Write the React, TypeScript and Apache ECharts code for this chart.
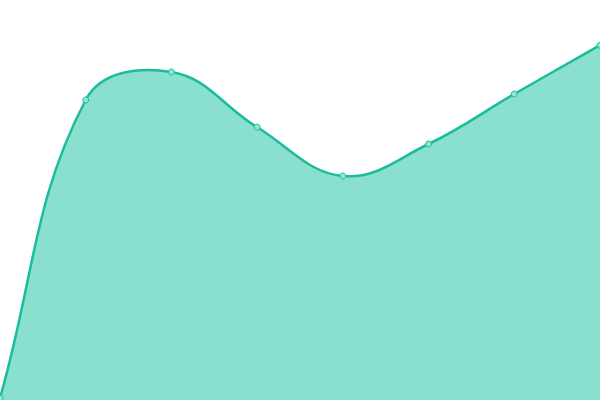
import React, { useEffect, useRef } from "react";
import * as echarts from "echarts";

const categories = ["P1", "P2", "P3", "P4", "P5", "P6", "P7", "P8"];
const values = [0.5, 75, 82, 68.2, 56, 64, 76.5, 88.7];
const yMin = 0;
const yMax = 100;

const LINE_COLOR = "#1abc9c";
const AREA_COLOR = "#8ae0ce";
const TENSION = 0.4;

// Spline smoothing computed in pixel space (control points along neighbour chords)
function buildPath(pts: number[][], t: number): string {
  const n = pts.length;
  const cps = pts.map((cur, i) => {
    const prev = i > 0 ? pts[i - 1] : cur;
    const next = i < n - 1 ? pts[i + 1] : cur;
    const d01 = Math.hypot(cur[0] - prev[0], cur[1] - prev[1]);
    const d12 = Math.hypot(next[0] - cur[0], next[1] - cur[1]);
    const sum = d01 + d12;
    const s01 = sum ? d01 / sum : 0;
    const s12 = sum ? d12 / sum : 0;
    const dx = next[0] - prev[0];
    const dy = next[1] - prev[1];
    return {
      before: [cur[0] - t * s01 * dx, cur[1] - t * s01 * dy],
      after: [cur[0] + t * s12 * dx, cur[1] + t * s12 * dy],
    };
  });
  let d = `M${pts[0][0]},${pts[0][1]}`;
  for (let i = 1; i < n; i++) {
    const a = cps[i - 1].after;
    const b = cps[i].before;
    d += ` C${a[0]},${a[1]} ${b[0]},${b[1]} ${pts[i][0]},${pts[i][1]}`;
  }
  return d;
}

export default function App() {
  const ref = useRef<HTMLDivElement>(null);
  useEffect(() => {
    document.body.style.margin = "0";
    const chart = echarts.init(ref.current!, null, { renderer: "svg" });
    chart.setOption({
      animation: false,
      grid: { left: 0, right: 0, top: 0, bottom: 0 },
      xAxis: {
        type: "category",
        data: categories,
        boundaryGap: false,
        show: false,
      },
      yAxis: {
        type: "value",
        min: yMin,
        max: yMax,
        show: false,
      },
      series: [
        {
          type: "custom",
          clip: false,
          silent: true,
          data: [[0, values[0]]],
          renderItem: (params: any, api: any) => {
            const pts = values.map((v, i) => api.coord([i, v]));
            const base = api.coord([0, yMin])[1];
            const line = buildPath(pts, TENSION);
            const last = pts[pts.length - 1];
            const area = `${line} L${last[0]},${base} L${pts[0][0]},${base} Z`;
            return {
              type: "group",
              children: [
                {
                  type: "path",
                  shape: { pathData: area },
                  style: { fill: AREA_COLOR, stroke: "none" },
                },
                {
                  type: "path",
                  shape: { pathData: line },
                  style: { fill: "none", stroke: LINE_COLOR, lineWidth: 2.5 },
                },
              ],
            };
          },
        },
        {
          type: "line",
          data: values,
          symbol: "circle",
          symbolSize: 6,
          lineStyle: { width: 0, opacity: 0 },
          itemStyle: { color: "#8ae6d2", borderColor: LINE_COLOR, borderWidth: 1 },
          z: 3,
        },
      ],
    });
    return () => chart.dispose();
  }, []);
  return <div ref={ref} style={{ width: 600, height: 400 }} />;
}
